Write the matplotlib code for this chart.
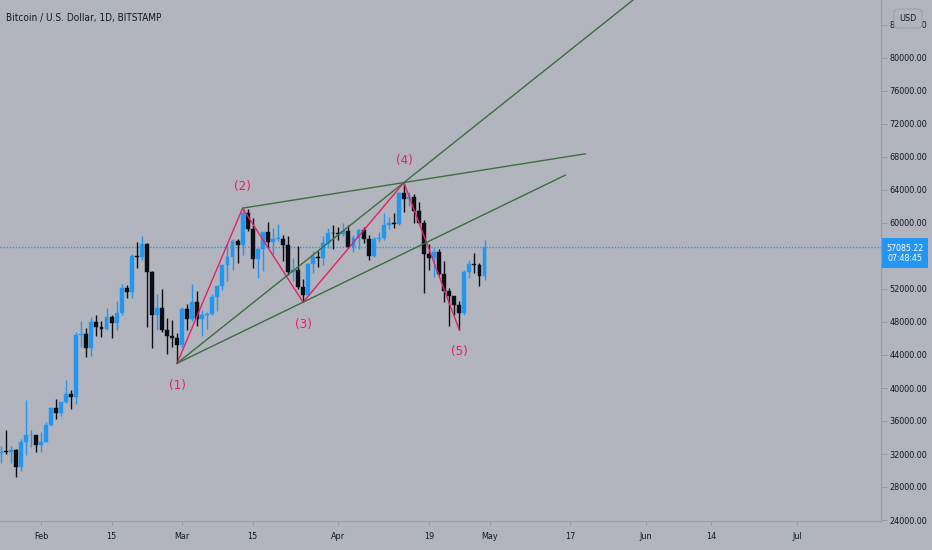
import numpy as np
import matplotlib
matplotlib.use("Agg")
import matplotlib.pyplot as plt
from matplotlib.patches import Rectangle, FancyBboxPatch
from matplotlib import font_manager as fm

# ---------------- data ----------------
start_date = "2021-01-24"
opens = [32080, 32270, 32250, 32500, 30400, 33400, 34250, 34300,
         33100, 33500, 35500, 37600, 36950, 38250, 39300, 38850, 46450, 46550, 44850, 47950, 47400, 47200,
         48600, 47900, 49150, 52150, 51600, 55950, 55900, 57500, 54100, 48900, 49700, 47000, 46300, 46100,
         45200, 49600, 48400, 50400, 48350, 48850, 48950, 51000, 52400, 54900, 55900, 57800, 57300, 61200,
         59300, 55600, 56900, 58900, 57650, 58050, 58100, 57350, 54100, 54350, 52300, 51300, 55050, 55850,
         55800, 57600, 58800,
         58750, 58700, 59050, 57100, 58200, 59100, 58100, 56000, 58100, 58150, 59800, 59950, 59850, 63600,
         62950, 63200, 61400, 60000, 56200, 55700, 56500, 53800, 51700, 51150, 50100, 49100, 54000, 55050,
         54900, 53600]
highs = [33000, 34900, 32950, 32600, 33800, 38600, 34900, 34350,
         34700, 35900, 37700, 38700, 38300, 40950, 39700, 46800, 48100, 47300, 48600, 48900, 48100, 49700,
         48900, 50600, 52600, 52500, 56300, 57700, 58400, 57600, 54200, 51400, 52000, 48500, 48300, 46700,
         49800, 50200, 52600, 51800, 49400, 49200, 51400, 52400, 54900, 57400, 58100, 58000, 61800, 61700,
         60600, 57000, 58900, 60100, 59400, 59900, 58600, 58400, 55800, 57200, 53200, 55100, 56600, 56600,
         58400, 59400, 59800,
         59500, 60000, 59800, 58500, 59300, 59500, 58600, 58300, 58900, 61200, 60700, 61200, 63800, 64900,
         63800, 63500, 62500, 60400, 57500, 57000, 56800, 55400, 52100, 51200, 50550, 54350, 55500, 56400,
         55200, 57900]
lows = [30900, 31950, 30850, 29200, 29900, 31900, 32900, 32300,
        32300, 33400, 35400, 36200, 36600, 38200, 37400, 38000, 45000, 43700, 43900, 46300, 46200, 47000,
        46000, 47000, 48900, 50900, 50900, 54500, 55500, 47400, 44900, 47000, 46800, 44100, 45000, 43000,
        45000, 47000, 48100, 47500, 46300, 47100, 48900, 49300, 51850, 53000, 54300, 55200, 56100, 59000,
        54500, 53300, 54200, 57000, 56300, 57800, 55400, 53700, 53000, 52000, 50400, 51250, 53900, 54700,
        54900, 57000, 56900,
        57900, 58450, 57000, 56500, 56800, 57600, 55500, 55900, 57700, 57900, 59300, 59400, 59800, 61300,
        62000, 60000, 59900, 51500, 54300, 53400, 53700, 50400, 47500, 48800, 47050, 48800, 53300, 53900,
        52400, 53100]
closes = [32270, 32250, 32500, 30400, 33400, 34250, 34300, 33100,
          33500, 35500, 37600, 36950, 38250, 39300, 38850, 46450, 46550, 44850, 47950, 47400, 47200, 48600,
          47900, 49150, 52150, 51600, 55950, 55900, 57500, 54100, 48900, 49700, 47000, 46300, 46100, 45200,
          49600, 48400, 50400, 48350, 48850, 48950, 51000, 52400, 54900, 55900, 57800, 57300, 61200, 59300,
          55600, 56900, 58900, 57650, 58050, 58100, 57350, 54100, 54350, 52300, 51300, 55050, 55850, 55800,
          57600, 58800, 58750,
          58700, 59050, 57100, 58200, 59100, 58100, 56000, 58100, 58150, 59800, 59950, 59850, 63600, 62950,
          63200, 61400, 60000, 56200, 55700, 56500, 53800, 51700, 51150, 50100, 49100, 54000, 55050, 54900,
          53600, 57085.22]

last_price = 57085.22
countdown = "07:48:45"

wave_dates = ["2021-02-28", "2021-03-13", "2021-03-25", "2021-04-14", "2021-04-25"]
wave_prices = [43000, 61800, 50400, 64900, 47050]
wave_labels = ["(1)", "(2)", "(3)", "(4)", "(5)"]

# trend lines: (anchor A date, price, anchor B date, price, end date)
trend_lines = [
    ("2021-02-28", 43000, "2021-04-14", 64900, "2021-06-15"),
    ("2021-02-28", 43000, "2021-03-25", 50400, "2021-05-16"),
    ("2021-03-13", 61800, "2021-04-14", 64900, "2021-05-20"),
]

y_ticks = list(range(24000, 88000, 4000))
x_tick_dates = ["2021-02-01", "2021-02-15", "2021-03-01", "2021-03-15", "2021-04-01", "2021-04-19",
                "2021-05-01", "2021-05-17", "2021-06-01", "2021-06-14", "2021-07-01"]
x_tick_labels = ["Feb", "15", "Mar", "15", "Apr", "19", "May", "17", "Jun", "14", "Jul"]

title = "Bitcoin / U.S. Dollar, 1D, BITSTAMP"

# ---------------- font choice (narrow font if available) ----------------
def _find(props):
    try:
        return fm.findfont(props, fallback_to_default=False)
    except Exception:
        return None

p = _find(fm.FontProperties(family="Liberation Sans Narrow"))
if p and "narrow" in p.lower():
    plt.rcParams['font.family'] = ['Liberation Sans Narrow', 'DejaVu Sans']
    fs_title, fs_tick, fs_lab = 8.6, 7.8, 10.5
else:
    p = _find(fm.FontProperties(family="DejaVu Sans", stretch="condensed"))
    if p and "condensed" in p.lower():
        plt.rcParams['font.family'] = ['DejaVu Sans']
        plt.rcParams['font.stretch'] = 'condensed'
        fs_title, fs_tick, fs_lab = 7.2, 6.5, 9.5
    else:
        plt.rcParams['font.family'] = ['Liberation Sans', 'DejaVu Sans']
        fs_title, fs_tick, fs_lab = 7.4, 6.9, 10.0

# ---------------- helpers ----------------
ref = np.datetime64("2021-02-01")
def dnum(s):
    return float((np.datetime64(s) - ref).astype(int))

x0 = dnum(start_date)
xs = np.arange(len(opens)) + x0
o = np.array(opens, float); h = np.array(highs, float)
l = np.array(lows, float); c = np.array(closes, float)

BG = "#b2b5be"
UP = "#2196f3"
DOWN = "#0b0d13"
PINK = "#e91e63"
GREEN = "#3a6e3d"
TXT = "#131722"

W, H = 932, 550
fig = plt.figure(figsize=(W / 100, H / 100), dpi=100, facecolor=BG)
ax = fig.add_axes([0, 29 / H, 881 / W, 521 / H], facecolor=BG)

up = c >= o
cols = np.where(up, UP, DOWN)
ax.vlines(xs, l, h, colors=cols, linewidth=1.0, zorder=2)
bottoms = np.minimum(o, c)
heights = np.maximum(np.abs(c - o), 90)
ax.bar(xs, heights, bottom=bottoms, width=0.78, color=cols, edgecolor=cols, linewidth=0.3, zorder=3)

# last price dotted line
ax.axhline(last_price, color=UP, linewidth=1.0, linestyle=(0, (1, 1.2)), zorder=1)

# zigzag
wx = [dnum(d) for d in wave_dates]
ax.plot(wx, wave_prices, color=PINK, linewidth=1.0, zorder=4)
offs = [-22, 22, -22, 22, -22]
for xx, yy, lab, off in zip(wx, wave_prices, wave_labels, offs):
    ax.annotate(lab, (xx, yy), xytext=(0, off), textcoords="offset pixels",
                ha="center", va="center", color=PINK, fontsize=fs_lab, zorder=5)

# trend lines
for da, pa, db, pb, de in trend_lines:
    xa, xb, xe = dnum(da), dnum(db), dnum(de)
    slope = (pb - pa) / (xb - xa)
    ax.plot([xa, xe], [pa, pa + slope * (xe - xa)], color=GREEN, linewidth=1.0, zorder=4)

# limits
ax.set_xlim((0 - 41) / 5.04, (881 - 41) / 5.04)
ax.set_ylim(24000 - 1 / 0.00825, 24000 + 520 / 0.00825)

# axes styling
for s in ["top", "left"]:
    ax.spines[s].set_visible(False)
ax.spines["right"].set_color("#9a9ca5")
ax.spines["bottom"].set_color("#9a9ca5")
ax.spines["right"].set_linewidth(0.8)
ax.spines["bottom"].set_linewidth(0.8)

ax.yaxis.tick_right()
ax.set_yticks(y_ticks)
ax.set_yticklabels([f"{v:.2f}" for v in y_ticks])
ax.tick_params(axis="y", direction="out", length=4, width=0.6, color="#8f929b",
               labelsize=fs_tick, labelcolor=TXT, pad=2)
ax.set_xticks([dnum(d) for d in x_tick_dates])
ax.set_xticklabels(x_tick_labels)
ax.tick_params(axis="x", direction="out", length=3, width=0.6, color="#8f929b",
               labelsize=fs_tick, labelcolor=TXT, pad=5)

# title
fig.text(6 / W, 1 - 18 / H, title, ha="left", va="center", color=TXT, fontsize=fs_title)

# price label box
fig.patches.append(Rectangle((882 / W, 1 - 268 / H), 46 / W, 30 / H, transform=fig.transFigure,
                             facecolor=UP, edgecolor="none", zorder=2))
fig.text(905 / W, 1 - 253.5 / H, f"{last_price:.2f}\n{countdown}", ha="center", va="center",
         color="white", fontsize=fs_tick - 0.2, linespacing=1.15, zorder=3)

# USD box
fig.patches.append(FancyBboxPatch((894 / W, 1 - 28 / H), 28 / W, 19 / H, transform=fig.transFigure,
                                  boxstyle="round,pad=0,rounding_size=0.006", facecolor=BG,
                                  edgecolor="#9da0a9", linewidth=0.8, zorder=2))
fig.text(908 / W, 1 - 18.5 / H, "USD", ha="center", va="center", color=TXT, fontsize=fs_tick, zorder=3)

fig.savefig("out.png", dpi=100, facecolor=BG)
